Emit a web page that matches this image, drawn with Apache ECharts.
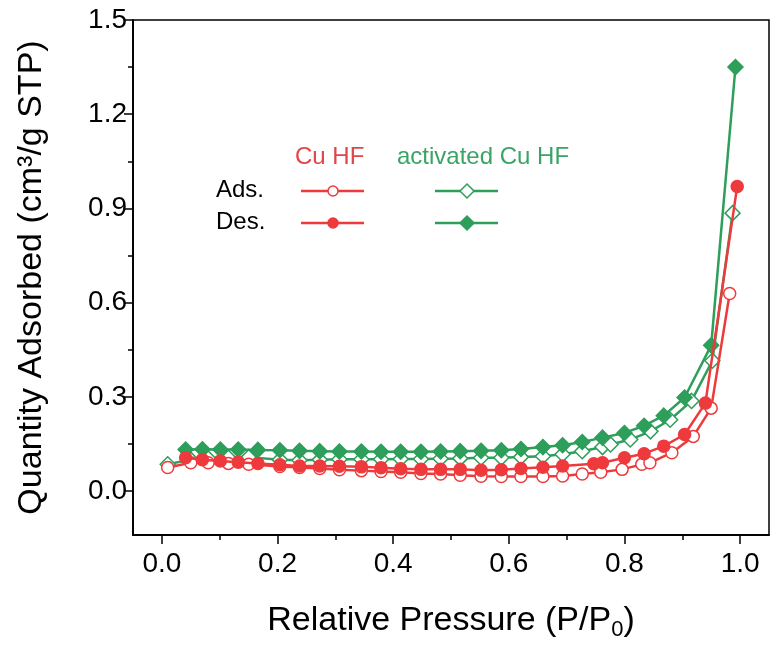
<!DOCTYPE html>
<html><head><meta charset="utf-8">
<script src="https://cdn.jsdelivr.net/npm/echarts@6/dist/echarts.min.js"></script>
<style>html,body{margin:0;padding:0;background:#fff}#c{width:772px;height:646px}</style>
</head><body><div id="c"></div>
<script>
// Cu HF adsorption (open circles)
const cuAdsX = [0.01,0.05,0.08,0.115,0.15,0.204,0.238,0.273,0.307,0.345,0.379,0.413,0.448,0.482,0.516,0.552,0.587,0.621,0.659,0.693,0.727,0.759,0.796,0.83,0.844,0.882,0.919,0.95,0.982];
const cuAdsY = [0.075,0.09,0.09,0.088,0.085,0.078,0.075,0.072,0.068,0.065,0.062,0.06,0.056,0.054,0.05,0.047,0.046,0.046,0.046,0.048,0.054,0.06,0.069,0.085,0.09,0.122,0.174,0.264,0.629];
// Cu HF desorption (filled circles)
const cuDesX = [0.041,0.07,0.101,0.132,0.166,0.204,0.238,0.273,0.307,0.345,0.379,0.413,0.448,0.482,0.516,0.552,0.587,0.621,0.659,0.693,0.747,0.762,0.80,0.834,0.868,0.904,0.94,0.995];
const cuDesY = [0.106,0.1,0.096,0.092,0.088,0.084,0.08,0.08,0.079,0.077,0.074,0.071,0.069,0.069,0.069,0.066,0.068,0.072,0.076,0.08,0.087,0.09,0.106,0.119,0.143,0.18,0.28,0.97];
// activated Cu HF adsorption (open diamonds)
const actAdsX = [0.01,0.05,0.08,0.115,0.15,0.204,0.238,0.273,0.307,0.345,0.379,0.413,0.448,0.482,0.516,0.552,0.587,0.621,0.659,0.693,0.727,0.762,0.776,0.81,0.845,0.879,0.916,0.952,0.987];
const actAdsY = [0.085,0.1,0.104,0.106,0.108,0.1,0.098,0.1,0.101,0.101,0.101,0.102,0.102,0.103,0.104,0.106,0.106,0.108,0.111,0.117,0.127,0.14,0.148,0.164,0.19,0.227,0.287,0.415,0.885];
// activated Cu HF desorption (filled diamonds)
const actDesX = [0.041,0.07,0.101,0.132,0.166,0.204,0.238,0.273,0.307,0.345,0.379,0.413,0.448,0.482,0.516,0.552,0.587,0.621,0.659,0.693,0.727,0.762,0.80,0.834,0.868,0.904,0.95,0.992];
const actDesY = [0.132,0.133,0.132,0.132,0.131,0.13,0.128,0.127,0.126,0.126,0.125,0.125,0.125,0.126,0.127,0.128,0.13,0.134,0.14,0.146,0.156,0.17,0.185,0.208,0.24,0.298,0.464,1.35];

const xMajor = [0,0.2,0.4,0.6,0.8,1.0];
const xMinor = [0.1,0.3,0.5,0.7,0.9];
const yMajor = [0,0.3,0.6,0.9,1.2,1.5];
const yMinor = [0.15,0.45,0.75,1.05,1.35];

const RED = '#EE3A3C', GREEN = '#2E9E5B';
const FONT = 'Liberation Sans, Arial, sans-serif';
const zip = (xs, ys) => xs.map((x, i) => [x, ys[i]]);

const chart = echarts.init(document.getElementById('c'), null, {renderer: 'canvas'});
const axisCommon = {
  axisLine: {show: true, onZero: false, lineStyle: {color: '#000', width: 1.5}},
  splitLine: {show: false}
};
function series(name, xs, ys, color, symbol, filled, size, z) {
  return {
    name, type: 'line', data: zip(xs, ys), xAxisIndex: 0, yAxisIndex: 0,
    symbol, symbolSize: size, showSymbol: true, z,
    lineStyle: {color, width: 2.5},
    itemStyle: {color: filled ? color : '#fff', borderColor: color, borderWidth: 1.5},
    animation: false
  };
}
chart.setOption({
  animation: false,
  textStyle: {fontFamily: FONT},
  grid: {left: 133, right: 3, top: 20, bottom: 105, show: true, borderColor: '#000', borderWidth: 1.5},
  xAxis: [
    Object.assign({type: 'value', min: -0.05, max: 1.05, position: 'bottom',
      axisTick: {show: true, inside: false, length: 9, lineStyle: {color: '#000', width: 1.5}, customValues: xMajor},
      axisLabel: {customValues: xMajor, color: '#000', fontSize: 28, margin: 15, fontFamily: FONT, formatter: v => v.toFixed(1)},
      name: '{a|Relative Pressure (P/P}{s|0}{a|)}', nameLocation: 'middle', nameGap: 66,
      nameTextStyle: {rich: {a: {fontSize: 34, color: '#000', fontFamily: FONT}, s: {fontSize: 22, color: '#000', fontFamily: FONT, padding: [18, 0, 0, 0]}}}
    }, axisCommon),
    Object.assign({type: 'value', min: -0.05, max: 1.05, position: 'bottom', gridIndex: 0,
      axisTick: {show: true, inside: false, length: 5, lineStyle: {color: '#000', width: 1.5}, customValues: xMinor},
      axisLabel: {show: false}
    }, axisCommon)
  ],
  yAxis: [
    Object.assign({type: 'value', min: -0.14, max: 1.5, position: 'left',
      axisTick: {show: true, inside: false, length: 9, lineStyle: {color: '#000', width: 1.5}, customValues: yMajor},
      axisLabel: {customValues: yMajor, color: '#000', fontSize: 28, margin: 6, fontFamily: FONT, formatter: v => v.toFixed(1)},
      name: 'Quantity Adsorbed (cm³/g STP)', nameLocation: 'middle', nameGap: 84,
      nameTextStyle: {fontSize: 34, color: '#000', fontFamily: FONT}
    }, axisCommon),
    Object.assign({type: 'value', min: -0.14, max: 1.5, position: 'left',
      axisTick: {show: true, inside: false, length: 5, lineStyle: {color: '#000', width: 1.5}, customValues: yMinor},
      axisLabel: {show: false}
    }, axisCommon)
  ],
  series: [
    series('act Ads', actAdsX, actAdsY, GREEN, 'diamond', false, 15, 3),
    series('act Des', actDesX, actDesY, GREEN, 'diamond', true, 15, 4),
    series('Cu Ads', cuAdsX, cuAdsY, RED, 'circle', false, 12, 5),
    series('Cu Des', cuDesX, cuDesY, RED, 'circle', true, 12, 6)
  ],
  graphic: [
    {type: 'text', left: 295, top: 145, style: {text: 'Cu HF', fill: '#E0454A', font: '24px ' + FONT}},
    {type: 'text', left: 397, top: 145, style: {text: 'activated Cu HF', fill: '#3AA466', font: '24px ' + FONT}},
    {type: 'text', left: 216, top: 178, style: {text: 'Ads.', fill: '#000', font: '24px ' + FONT}},
    {type: 'text', left: 216, top: 210, style: {text: 'Des.', fill: '#000', font: '24px ' + FONT}},
    {type: 'line', shape: {x1: 301, y1: 191, x2: 364, y2: 191}, style: {stroke: RED, lineWidth: 2.5}},
    {type: 'circle', shape: {cx: 333, cy: 191, r: 5}, style: {fill: '#fff', stroke: RED, lineWidth: 1.5}},
    {type: 'line', shape: {x1: 301, y1: 223, x2: 364, y2: 223}, style: {stroke: RED, lineWidth: 2.5}},
    {type: 'circle', shape: {cx: 333, cy: 223, r: 5}, style: {fill: RED, stroke: RED, lineWidth: 1.5}},
    {type: 'line', shape: {x1: 435, y1: 191, x2: 498, y2: 191}, style: {stroke: GREEN, lineWidth: 2.5}},
    {type: 'polygon', shape: {points: [[467, 184], [474, 191], [467, 198], [460, 191]]}, style: {fill: '#fff', stroke: GREEN, lineWidth: 1.5}},
    {type: 'line', shape: {x1: 435, y1: 223, x2: 498, y2: 223}, style: {stroke: GREEN, lineWidth: 2.5}},
    {type: 'polygon', shape: {points: [[467, 216], [474, 223], [467, 230], [460, 223]]}, style: {fill: GREEN, stroke: GREEN, lineWidth: 1.5}}
  ]
});
</script></body></html>
